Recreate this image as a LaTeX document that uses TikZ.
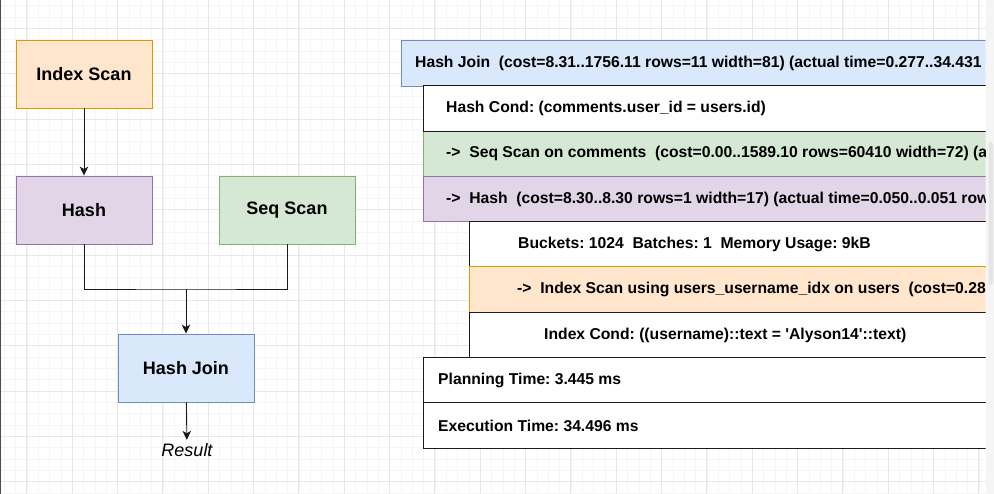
\documentclass[tikz,border=0pt]{standalone}
\usepackage{fontspec}
\setmainfont{Liberation Sans}
\usetikzlibrary{arrows.meta, positioning}
\usepackage{xcolor}
\frenchspacing

\definecolor{idxfill}{HTML}{FFE6CC}
\definecolor{idxline}{HTML}{D79B00}
\definecolor{hashfill}{HTML}{E1D5E7}
\definecolor{hashline}{HTML}{9673A6}
\definecolor{seqfill}{HTML}{D5E8D4}
\definecolor{seqline}{HTML}{82B366}
\definecolor{joinfill}{HTML}{DAE8FC}
\definecolor{joinline}{HTML}{6C8EBF}
\definecolor{gridmajor}{HTML}{E8E8E8}
\definecolor{gridminor}{HTML}{F5F5F5}
\definecolor{linedark}{HTML}{1A1A1A}

\begin{document}
\begin{tikzpicture}[x=1pt, y=-1pt]
    % Define styles
    \tikzset{
        plan box/.style={
            rectangle,
            minimum width=136pt,
            minimum height=68pt,
            line width=0.9pt,
            font=\fontsize{18}{21}\selectfont\bfseries,
            anchor=center
        },
        row box/.style={
            rectangle,
            anchor=north west,
            minimum width=620pt,
            minimum height=45.5pt,
            line width=0.9pt,
            inner sep=0pt
        },
        row text/.style={anchor=west, inner sep=0pt, font=\fontsize{15.7}{18}\selectfont\bfseries},
        arrow style/.style={-{Stealth[length=9pt, width=8.5pt, inset=2.5pt]}, line width=0.9pt, draw=linedark},
        link style/.style={line width=0.9pt, draw=linedark}
    }

    \useasboundingbox (0,0) rectangle (994,494);

    % Grid of the canvas
    \foreach \k in {-10,...,80} {
        \draw[gridminor, line width=0.6pt] (117.5+11.333*\k,0) -- (117.5+11.333*\k,494);
    }
    \foreach \k in {-10,...,40} {
        \draw[gridminor, line width=0.6pt] (0,119+11.333*\k) -- (986,119+11.333*\k);
    }
    \foreach \k in {-2,...,19} {
        \draw[gridmajor, line width=0.8pt] (117.5+45.333*\k,0) -- (117.5+45.333*\k,494);
    }
    \foreach \k in {-2,...,8} {
        \draw[gridmajor, line width=0.8pt] (0,119+45.333*\k) -- (986,119+45.333*\k);
    }

    % Left: query plan as a tree
    \node[plan box, fill=idxfill, draw=idxline] (idx) at (84,74) {Index Scan};
    \node[plan box, fill=hashfill, draw=hashline] (hash) at (84,210) {Hash};
    \node[plan box, fill=seqfill, draw=seqline] (seq) at (287,210) {Seq Scan};
    \node[plan box, fill=joinfill, draw=joinline] (hj) at (186,368) {Hash Join};
    \node[font=\fontsize{18}{21}\selectfont\itshape] (res) at (187,450) {Result};
    \coordinate (merge) at (186,289);

    \draw[arrow style] (idx) -- (hash);
    \draw[link style] (hash.south) |- (merge) -| (seq.south);
    \draw[arrow style] (merge) -- (hj);
    \draw[arrow style] (hj) -- (res);

    % Right: EXPLAIN ANALYZE output
    \begin{scope}
        \clip (380,0) rectangle (985.5,494);
        \node[row box, fill=joinfill, draw=joinline] (r1) at (401,40.5) {};
        \node[row box, fill=seqfill, draw=seqline] (r3) at (423,130.5) {};
        \node[row box, fill=white, draw=linedark] (r2) at (423,85.5) {};
        \node[row box, fill=hashfill, draw=hashline] (r4) at (423,176) {};
        \node[row box, fill=white, draw=linedark] (r5) at (469,221.5) {};
        \node[row box, fill=idxfill, draw=idxline] (r6) at (469,266.5) {};
        \node[row box, fill=white, draw=linedark] (r7) at (469,312) {};
        \node[row box, fill=white, draw=linedark] (r8) at (423,357) {};
        \node[row box, fill=white, draw=linedark] (r9) at (423,402.5) {};

        \node[row text, right=14pt of r1.west] (t1) {Hash Join\ \ (cost=8.31..1756.11 rows=11 width=81) (actual time=0.277..34.431};
        \node[row text, right=23pt of r2.west] (t2) {Hash Cond: (comments.user\_id = users.id)};
        \node[row text, right=23pt of r3.west] (t3) {->\ \ Seq Scan on comments\ \ (cost=0.00..1589.10 rows=60410 width=72) (actual};
        \node[row text, right=23pt of r4.west] (t4) {->\ \ Hash\ \ (cost=8.30..8.30 rows=1 width=17) (actual time=0.050..0.051 rows};
        \node[row text, right=49pt of r5.west] (t5) {Buckets: 1024\ \ Batches: 1\ \ Memory Usage: 9kB};
        \node[row text, right=48pt of r6.west] (t6) {->\ \ Index Scan using users\_username\_idx on users\ \ (cost=0.28};
        \node[row text, right=75pt of r7.west] (t7) {Index Cond: ((username)::text = \textquotesingle Alyson14\textquotesingle::text)};
        \node[row text, right=15pt of r8.west] (t8) {Planning Time: 3.445 ms};
        \node[row text, right=15pt of r9.west] (t9) {Execution Time: 34.496 ms};
    \end{scope}

    % Window edge and scroll bar
    \fill[black!70] (0,0) rectangle (1.2,494);
    \fill[black!4] (986,0) rectangle (994,494);
    \fill[black!10, rounded corners=2pt] (988.5,142) rectangle (993,285);
\end{tikzpicture}
\end{document}
